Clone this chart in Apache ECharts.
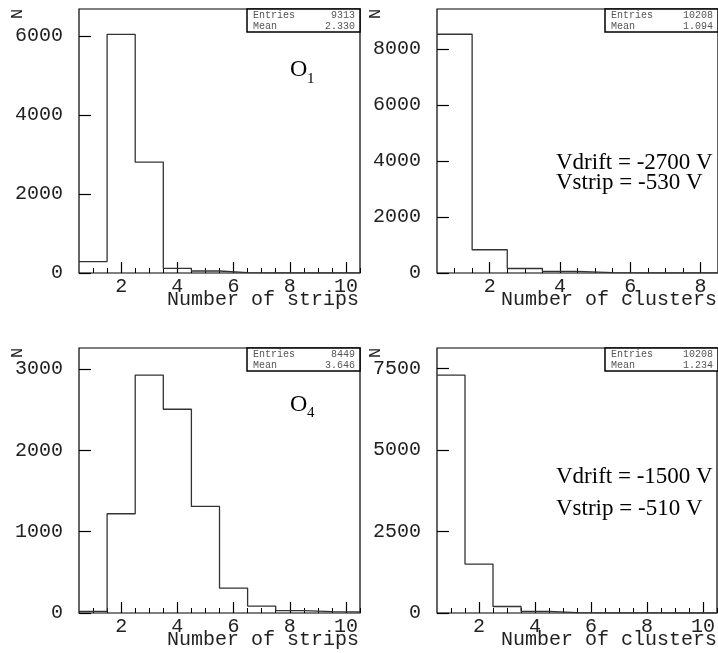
<!DOCTYPE html>
<html>
<head>
<meta charset="utf-8">
<style>
  html, body { margin: 0; padding: 0; background: #fff; }
  #chart { width: 718px; height: 653px; }
</style>
<script src="https://cdn.jsdelivr.net/npm/echarts@6/dist/echarts.min.js"></script>
</head>
<body>
<div id="chart"></div>
<script>
// Bin contents (bins centred on 1, 2, 3, ...)
const stripsO1 = [290, 6040, 2805, 115, 50, 12, 4, 2, 1, 1];
const clustersA = [8525, 830, 160, 60, 15, 5, 2, 1];
const stripsO4 = [20, 1220, 2925, 2505, 1310, 305, 85, 30, 18, 15];
const clustersB = [7295, 1500, 200, 50, 10, 3, 1, 1, 0, 0];

// Statistics box contents
const statEntries = ['9313', '10208', '8449', '10208'];
const statMeans = ['2.330', '1.094', '3.646', '1.234'];

// Axis ticks
const xMajorTicks = [2, 4, 6, 8, 10];
const yTicksO1 = [0, 2000, 4000, 6000];
const yTicksA = [0, 2000, 4000, 6000, 8000];
const yTicksO4 = [0, 1000, 2000, 3000];
const yTicksB = [0, 2500, 5000, 7500];

// Axis ranges
const xMax = [10.5, 8.5, 10.5, 10.5];
const yMax = [6680, 9426, 3258, 8124];
const xTitles = ['Number of strips', 'Number of clusters', 'Number of strips', 'Number of clusters'];

const panels = [
  { counts: stripsO1, yTicks: yTicksO1 },
  { counts: clustersA, yTicks: yTicksA },
  { counts: stripsO4, yTicks: yTicksO4 },
  { counts: clustersB, yTicks: yTicksB }
];

// Panel frames in pixels
const frames = [
  { left: 79, top: 9, width: 281, height: 264 },
  { left: 437, top: 9, width: 281, height: 264 },
  { left: 79, top: 348, width: 281, height: 265 },
  { left: 437, top: 348, width: 281, height: 265 }
];

const MONO = '"Liberation Mono", "DejaVu Sans Mono", monospace';
const SERIF = '"Liberation Serif", "DejaVu Serif", serif';

// Histogram outline: one point per lower bin edge plus the final upper edge
function stepPoints(counts) {
  const pts = counts.map((c, i) => [i + 0.5, c]);
  pts.push([counts.length + 0.5, counts[counts.length - 1]]);
  return pts;
}

function minorTicks(max) {
  const out = [];
  for (let v = 1; v <= max; v += 0.5) out.push(v);
  return out;
}

const plain = v => String(Math.round(v));

const grid = [], xAxis = [], yAxis = [], series = [], graphic = [];

panels.forEach((p, i) => {
  const f = frames[i];
  grid.push({
    left: f.left, top: f.top, width: f.width, height: f.height,
    show: true, borderColor: '#000', borderWidth: 1.2, backgroundColor: 'transparent'
  });
  // major x ticks with labels
  xAxis.push({
    type: 'value', gridIndex: i, min: 0.5, max: xMax[i], position: 'bottom',
    axisLine: { show: false },
    splitLine: { show: false },
    axisTick: { show: true, inside: true, length: 11, customValues: xMajorTicks.filter(v => v <= xMax[i]),
      lineStyle: { color: '#000', width: 1.2 } },
    axisLabel: { show: true, customValues: xMajorTicks.filter(v => v <= xMax[i]), margin: 4,
      fontFamily: MONO, fontSize: 20, color: '#222', formatter: plain }
  });
  // minor x ticks every half unit
  xAxis.push({
    type: 'value', gridIndex: i, min: 0.5, max: xMax[i], position: 'bottom', offset: 0,
    axisLine: { show: false },
    splitLine: { show: false },
    axisTick: { show: true, inside: true, length: 5, customValues: minorTicks(xMax[i]),
      lineStyle: { color: '#000', width: 1 } },
    axisLabel: { show: false }
  });
  yAxis.push({
    type: 'value', gridIndex: i, min: 0, max: yMax[i],
    axisLine: { show: false },
    splitLine: { show: false },
    axisTick: { show: true, inside: true, length: 12, customValues: p.yTicks,
      lineStyle: { color: '#000', width: 1.2 } },
    axisLabel: { show: true, customValues: p.yTicks, margin: 16,
      fontFamily: MONO, fontSize: 20, color: '#222', formatter: plain }
  });
  series.push({
    type: 'line', xAxisIndex: i * 2, yAxisIndex: i,
    data: stepPoints(p.counts), step: 'end',
    symbol: 'none', silent: true,
    lineStyle: { color: '#333', width: 1.3 }
  });

  // y-axis title
  graphic.push({
    type: 'text', x: f.left - 62, y: f.top + 5, rotation: Math.PI / 2,
    style: { text: 'N', font: '17px ' + MONO, fill: '#222', align: 'center', verticalAlign: 'middle' }
  });
  // x-axis title
  graphic.push({
    type: 'text', x: f.left + f.width - 1, y: f.top + f.height + 27,
    style: { text: xTitles[i], font: '20px ' + MONO, fill: '#222', align: 'right', verticalAlign: 'middle' }
  });
  // statistics box
  const bx = f.left + 168, by = f.top, bw = f.width - 168, bh = 23;
  graphic.push({
    type: 'group', z: 100,
    children: [
      { type: 'rect', shape: { x: bx, y: by, width: bw, height: bh },
        style: { fill: '#fff', stroke: '#000', lineWidth: 1.5 } },
      { type: 'text', x: bx + 6, y: by + 6.5,
        style: { text: 'Entries', font: '10px ' + MONO, fill: '#555', align: 'left', verticalAlign: 'middle' } },
      { type: 'text', x: f.left + f.width - 5, y: by + 6.5,
        style: { text: statEntries[i], font: '10px ' + MONO, fill: '#555', align: 'right', verticalAlign: 'middle' } },
      { type: 'text', x: bx + 6, y: by + 17,
        style: { text: 'Mean', font: '10px ' + MONO, fill: '#555', align: 'left', verticalAlign: 'middle' } },
      { type: 'text', x: f.left + f.width - 5, y: by + 17,
        style: { text: statMeans[i], font: '10px ' + MONO, fill: '#555', align: 'right', verticalAlign: 'middle' } }
    ]
  });
});

// Plane labels
graphic.push(
  { type: 'text', x: 290, y: 70, style: { text: 'O', font: '24px ' + SERIF, fill: '#000', align: 'left', verticalAlign: 'middle' } },
  { type: 'text', x: 307, y: 79, style: { text: '1', font: '15px ' + SERIF, fill: '#000', align: 'left', verticalAlign: 'middle' } },
  { type: 'text', x: 290, y: 405, style: { text: 'O', font: '24px ' + SERIF, fill: '#000', align: 'left', verticalAlign: 'middle' } },
  { type: 'text', x: 307, y: 413, style: { text: '4', font: '15px ' + SERIF, fill: '#000', align: 'left', verticalAlign: 'middle' } }
);

// Voltage settings
graphic.push(
  { type: 'text', x: 556, y: 163, style: { text: 'Vdrift = -2700 V', font: '23px ' + SERIF, fill: '#000', align: 'left', verticalAlign: 'middle' } },
  { type: 'text', x: 556, y: 183, style: { text: 'Vstrip = -530 V', font: '23px ' + SERIF, fill: '#000', align: 'left', verticalAlign: 'middle' } },
  { type: 'text', x: 556, y: 477, style: { text: 'Vdrift = -1500 V', font: '23px ' + SERIF, fill: '#000', align: 'left', verticalAlign: 'middle' } },
  { type: 'text', x: 556, y: 509, style: { text: 'Vstrip = -510 V', font: '23px ' + SERIF, fill: '#000', align: 'left', verticalAlign: 'middle' } }
);

const chart = echarts.init(document.getElementById('chart'), null, { renderer: 'canvas' });
chart.setOption({
  animation: false,
  backgroundColor: '#fff',
  grid, xAxis, yAxis, series, graphic
});
</script>
</body>
</html>
